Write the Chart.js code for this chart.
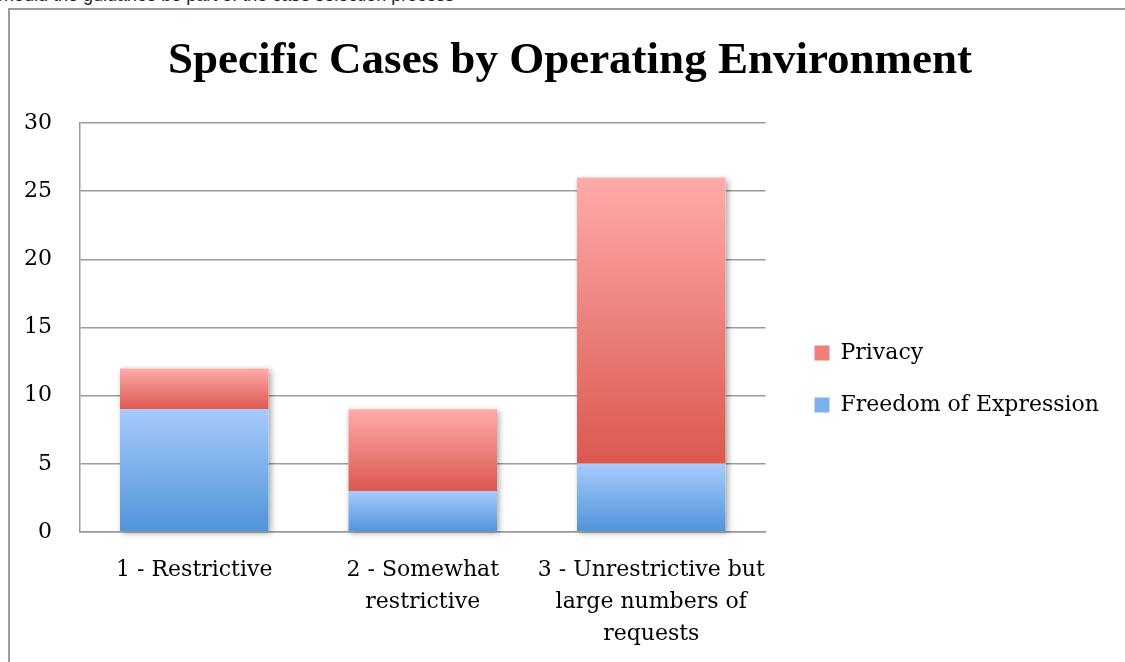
<!DOCTYPE html>
<html>
<head>
<meta charset="utf-8">
<script src="https://cdn.jsdelivr.net/npm/chart.js@4.4.0/dist/chart.umd.min.js"></script>
<style>
  html, body { margin: 0; padding: 0; background: #fff; overflow: hidden; }
  #caption {
    position: absolute; left: -8px; top: -15px;
    font-family: "Liberation Sans", Arial, sans-serif; font-size: 18px; color: #222;
    white-space: nowrap;
  }
  #frame {
    position: absolute; left: 8px; top: 8px; width: 1200px; height: 700px;
    border-left: 2px solid #9c9c9c; border-top: 2px solid #9c9c9c;
  }
  #wrap { position: absolute; left: 0; top: 0; width: 1125px; height: 662px; }
</style>
</head>
<body>
<div id="caption">Should the guidance be part of the case selection process</div>
<div id="frame"></div>
<div id="wrap"><canvas id="casesChart"></canvas></div>
<script>
  const categories = [
    ["1 - Restrictive"],
    ["2 - Somewhat", "restrictive"],
    ["3 - Unrestrictive but", "large numbers of", "requests"]
  ];
  const freedomOfExpression = [9, 3, 5];
  const privacy = [3, 6, 21];
  const yTicks = [0, 5, 10, 15, 20, 25, 30];

  const serif = "'DejaVu Serif', serif";
  const titleSerif = "'Liberation Serif', 'Times New Roman', serif";

  // vertical gradient for one bar segment, light on top and dark at the bottom
  function segmentGradient(context, lowValues, highValues, light, dark) {
    const chart = context.chart;
    const y = chart.scales.y;
    if (!chart.chartArea || !y) return dark;
    const i = context.dataIndex;
    const top = y.getPixelForValue(highValues[i]);
    const bottom = y.getPixelForValue(lowValues[i]);
    if (!isFinite(top) || !isFinite(bottom) || top === bottom) return dark;
    const g = chart.ctx.createLinearGradient(0, top, 0, bottom);
    g.addColorStop(0, light);
    g.addColorStop(1, dark);
    return g;
  }

  const zeros = freedomOfExpression.map(() => 0);
  const stackTop = freedomOfExpression.map((v, i) => v + privacy[i]);

  // nudge title and legend blocks, the original has them a bit off-centre
  const blockShift = {
    id: "blockShift",
    afterLayout(chart) {
      const lg = chart.legend;
      lg.left += 19; lg.right += 19;
      lg.top += 48; lg.bottom += 48;
      const t = chart.titleBlock;
      t.left += 25; t.right += 25;
    }
  };

  // soft drop shadow behind each whole stacked column
  const columnShadow = {
    id: "columnShadow",
    beforeDatasetsDraw(chart) {
      const low = chart.getDatasetMeta(0).data;
      const high = chart.getDatasetMeta(1).data;
      const ctx = chart.ctx;
      ctx.save();
      ctx.shadowColor = "rgba(0,0,0,0.35)";
      ctx.shadowBlur = 6;
      ctx.shadowOffsetX = 2;
      ctx.shadowOffsetY = 2;
      ctx.fillStyle = "#fff";
      high.forEach((bar, i) => {
        const w = bar.width;
        ctx.fillRect(bar.x - w / 2, bar.y, w, low[i].base - bar.y);
      });
      ctx.restore();
    }
  };

  document.addEventListener("DOMContentLoaded", function () {
    const ctx = document.getElementById("casesChart").getContext("2d");
    new Chart(ctx, {
      type: "bar",
      data: {
        labels: categories,
        datasets: [{
          label: "Freedom of Expression",
          data: freedomOfExpression,
          backgroundColor: c => segmentGradient(c, zeros, freedomOfExpression, "#a7cbfd", "#4f93d8"),
          legendColor: "#7db1ee",
          barPercentage: 0.65,
          categoryPercentage: 1
        }, {
          label: "Privacy",
          data: privacy,
          backgroundColor: c => segmentGradient(c, freedomOfExpression, stackTop, "#ffabaa", "#da584e"),
          legendColor: "#ee8079",
          barPercentage: 0.65,
          categoryPercentage: 1
        }]
      },
      options: {
        responsive: true,
        maintainAspectRatio: false,
        animation: false,
        layout: { padding: { left: 0, right: 35, top: 0, bottom: 0 } },
        scales: {
          x: {
            stacked: true,
            afterFit: scale => { scale.height = 130; },
            grid: { display: false, drawTicks: false },
            border: { color: "#9a9a9a", width: 1.5 },
            ticks: {
              color: "#000",
              padding: 22,
              maxRotation: 0,
              autoSkip: false,
              font: { family: serif, size: 22, lineHeight: "32px" }
            }
          },
          y: {
            stacked: true,
            min: 0,
            max: 30,
            afterFit: scale => { scale.width = 80; },
            afterBuildTicks: scale => { scale.ticks = yTicks.map(v => ({ value: v })); },
            grid: { color: "#9a9a9a", lineWidth: 1.5, drawTicks: false },
            border: { color: "#9a9a9a", width: 1.5 },
            ticks: {
              color: "#000",
              padding: 28,
              font: { family: serif, size: 22 }
            }
          }
        },
        plugins: {
          title: {
            display: true,
            text: "Specific Cases by Operating Environment",
            color: "#000",
            font: { family: titleSerif, size: 45, weight: "bold", lineHeight: 1.2 },
            padding: { top: 34, bottom: 35 }
          },
          legend: {
            display: true,
            position: "right",
            reverse: true,
            maxWidth: 420,
            labels: {
              color: "#000",
              boxWidth: 15,
              boxHeight: 15,
              padding: 30,
              font: { family: serif, size: 22, lineHeight: "22px" },
              generateLabels: chart => {
                const items = Chart.defaults.plugins.legend.labels.generateLabels(chart);
                items.forEach(it => {
                  it.fillStyle = chart.data.datasets[it.datasetIndex].legendColor;
                  it.strokeStyle = "transparent";
                  it.lineWidth = 0;
                });
                return items;
              }
            }
          },
          tooltip: { enabled: false }
        }
      },
      plugins: [blockShift, columnShadow]
    });
  });
</script>
</body>
</html>
